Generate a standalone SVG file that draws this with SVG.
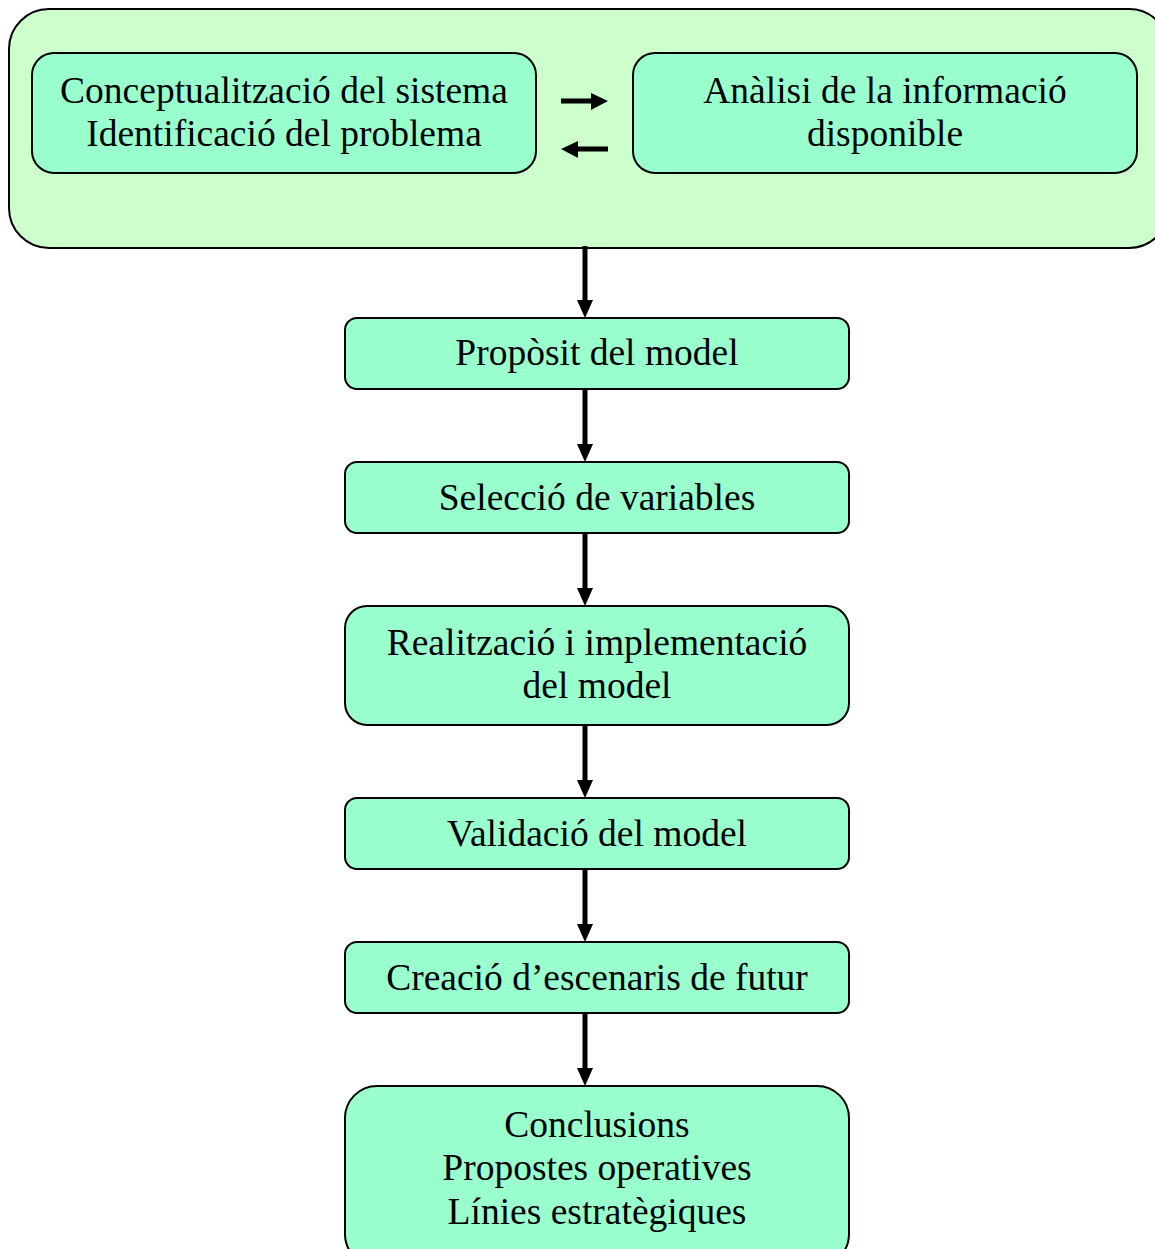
<svg xmlns="http://www.w3.org/2000/svg" width="1155" height="1249" viewBox="0 0 1155 1249">
<style>
.outer{fill:#CCFFCC;stroke:#000;stroke-width:2}
.box{fill:#99FFCC;stroke:#000;stroke-width:2}
.t{font-family:"Liberation Serif","Times New Roman",serif;font-size:37.5px;fill:#000;text-anchor:middle}
.c{stroke:#000;stroke-width:5;fill:none}
.h{fill:#000}
</style>
<rect width="1155" height="1249" fill="#fff"/>
<g id="group-top">
<rect class="outer" x="9" y="9" width="1160" height="239" rx="40" ry="40"/>
</g>
<g id="node-concept">
<rect class="box" x="32" y="53" width="504" height="120" rx="22" ry="22"/>
<text class="t" x="284" y="103">Conceptualització del sistema</text>
<text class="t" x="284" y="146">Identificació del problema</text>
</g>
<g id="node-analisi">
<rect class="box" x="633" y="53" width="504" height="120" rx="22" ry="22"/>
<text class="t" x="885" y="103">Anàlisi de la informació</text>
<text class="t" x="885" y="146">disponible</text>
</g>
<g id="node-proposit">
<rect class="box" x="345" y="318" width="504" height="71" rx="12" ry="12"/>
<text class="t" x="597" y="365">Propòsit del model</text>
</g>
<g id="node-seleccio">
<rect class="box" x="345" y="462" width="504" height="71" rx="12" ry="12"/>
<text class="t" x="597" y="510">Selecció de variables</text>
</g>
<g id="node-realitzacio">
<rect class="box" x="345" y="606" width="504" height="119" rx="22" ry="22"/>
<text class="t" x="597" y="655">Realització i implementació</text>
<text class="t" x="597" y="698">del model</text>
</g>
<g id="node-validacio">
<rect class="box" x="345" y="798" width="504" height="71" rx="12" ry="12"/>
<text class="t" x="597" y="846">Validació del model</text>
</g>
<g id="node-creacio">
<rect class="box" x="345" y="942" width="504" height="71" rx="12" ry="12"/>
<text class="t" x="597" y="990">Creació d’escenaris de futur</text>
</g>
<g id="node-conclusions">
<rect class="box" x="345" y="1086" width="504" height="180" rx="32" ry="32"/>
<text class="t" x="597" y="1137">Conclusions</text>
<text class="t" x="597" y="1180">Propostes operatives</text>
<text class="t" x="597" y="1224">Línies estratègiques</text>
</g>
<g id="connectors">
<line class="c" x1="561" y1="101" x2="593" y2="101"/>
<polygon class="h" points="591,93 608,101 591,110"/>
<line class="c" x1="608" y1="149" x2="576" y2="149"/>
<polygon class="h" points="578,141 561,149 578,158"/>
<line class="c" x1="585" y1="246" x2="585" y2="302"/>
<polygon class="h" points="577,300 593,300 585,318"/>
<line class="c" x1="585" y1="389" x2="585" y2="446"/>
<polygon class="h" points="577,444 593,444 585,462"/>
<line class="c" x1="585" y1="533" x2="585" y2="590"/>
<polygon class="h" points="577,588 593,588 585,606"/>
<line class="c" x1="585" y1="725" x2="585" y2="782"/>
<polygon class="h" points="577,780 593,780 585,798"/>
<line class="c" x1="585" y1="869" x2="585" y2="926"/>
<polygon class="h" points="577,924 593,924 585,942"/>
<line class="c" x1="585" y1="1013" x2="585" y2="1070"/>
<polygon class="h" points="577,1068 593,1068 585,1086"/>
</g>
</svg>
